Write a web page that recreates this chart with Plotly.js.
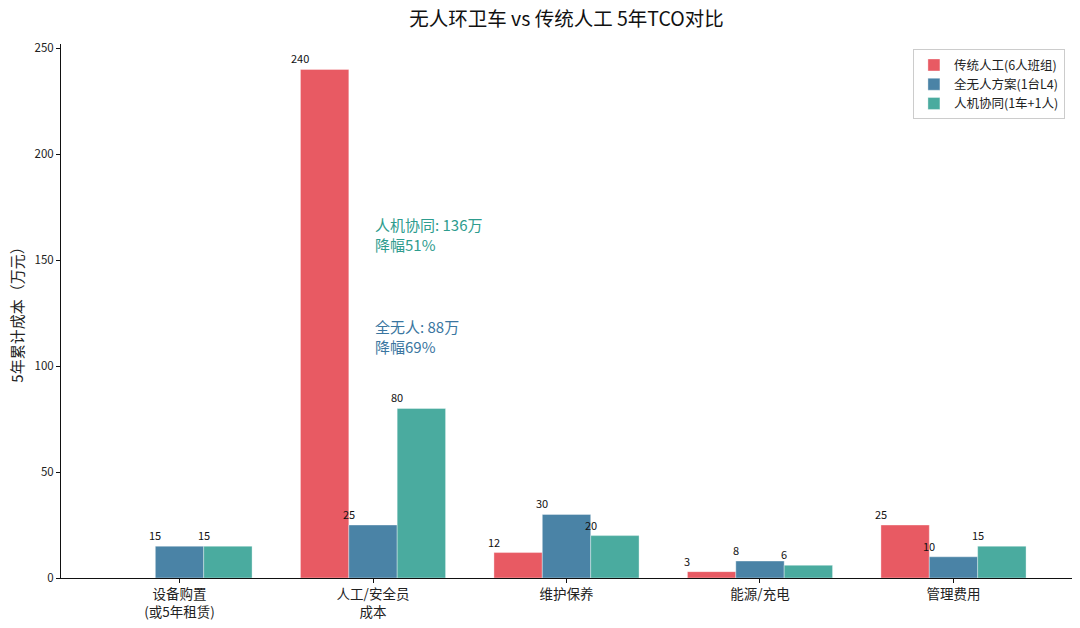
<!DOCTYPE html>
<html>
<head>
<meta charset="utf-8">
<script src="https://cdn.plot.ly/plotly-3.0.1.min.js"></script>
<style>
  html, body { margin: 0; padding: 0; background: #fff; }
  #myChart { width: 1080px; height: 628px; }
</style>
</head>
<body>
<div id="myChart"></div>
<script>
var categories = ['设备购置<br>(或5年租赁)', '人工/安全员<br>成本', '维护保养', '能源/充电', '管理费用'];
var seriesNames = ['传统人工(6人班组)', '全无人方案(1台L4)', '人机协同(1车+1人)'];
var traditional = [0, 240, 12, 3, 25];
var unmanned = [15, 25, 30, 8, 10];
var hybrid = [15, 80, 20, 6, 15];
var colours = ['#E85A63', '#4A83A6', '#4AAB9F'];
var notes = [
  {text: '人机协同: 136万<br>降幅51%', y: 162, color: '#2E9C8E'},
  {text: '全无人: 88万<br>降幅69%', y: 114, color: '#3A76A0'}
];

var font = 'Noto Sans CJK SC, Noto Sans, sans-serif';
var allSeries = [traditional, unmanned, hybrid];
var idx = categories.map(function (c, i) { return i; });

var data = [];
for (let j = 0; j < allSeries.length; j++) {
  data.push({
    x: idx,
    y: allSeries[j],
    name: seriesNames[j],
    type: 'bar',
    marker: {color: colours[j], line: {color: 'rgba(255,255,255,0.6)', width: 0.6}},
    hoverinfo: 'skip'
  });
}

// value labels sit at the left edge of each bar
var annotations = [];
var w = 0.25;
for (let j = 0; j < allSeries.length; j++) {
  for (let i = 0; i < idx.length; i++) {
    var v = allSeries[j][i];
    if (v === 0) continue;
    annotations.push({
      x: i + (j - 1) * w - w / 2,
      y: v,
      text: String(v),
      showarrow: false,
      xanchor: 'center',
      yanchor: 'bottom',
      yshift: 1,
      font: {family: font, size: 11, color: '#111'}
    });
  }
}
notes.forEach(function (n) {
  annotations.push({
    x: 1.0, y: n.y, text: n.text, showarrow: false,
    xanchor: 'left', yanchor: 'middle', align: 'left',
    font: {family: font, size: 15, color: n.color}
  });
});

var layout = {
  width: 1080,
  height: 628,
  font: {family: font, size: 11, color: '#222'},
  paper_bgcolor: '#fff',
  plot_bgcolor: '#fff',
  title: {
    text: '无人环卫车 vs 传统人工 5年TCO对比',
    font: {family: font, size: 19.5, color: '#111'},
    x: 0.5245, xanchor: 'center', y: 0.97, yanchor: 'middle'
  },
  margin: {l: 61, r: 8, t: 44, b: 50},
  barmode: 'group',
  bargap: 0.25,
  bargroupgap: 0,
  xaxis: {
    tickmode: 'array',
    tickvals: idx,
    ticktext: categories,
    range: [-0.6125, 4.6125],
    showline: true, linecolor: '#111', linewidth: 1,
    ticks: 'outside', ticklen: 4, tickcolor: '#111',
    showgrid: false, zeroline: false,
    tickfont: {family: font, size: 13.5, color: '#222'}
  },
  yaxis: {
    range: [0, 252],
    tickvals: [0, 50, 100, 150, 200, 250],
    showline: true, linecolor: '#111', linewidth: 1,
    ticks: 'outside', ticklen: 4, tickcolor: '#111',
    showgrid: false, zeroline: false,
    tickfont: {family: font, size: 11.5, color: '#222'},
    title: {text: '5年累计成本（万元）', font: {family: font, size: 15, color: '#222'}, standoff: 7}
  },
  legend: {
    x: 0.993, xanchor: 'right', y: 0.99, yanchor: 'top',
    bgcolor: 'rgba(255,255,255,0.9)', bordercolor: '#ccc', borderwidth: 1,
    font: {family: font, size: 12.5, color: '#222'},
    tracegroupgap: 2
  },
  showlegend: true,
  annotations: annotations
};

Plotly.newPlot('myChart', data, layout, {displayModeBar: false, staticPlot: true});
</script>
</body>
</html>
